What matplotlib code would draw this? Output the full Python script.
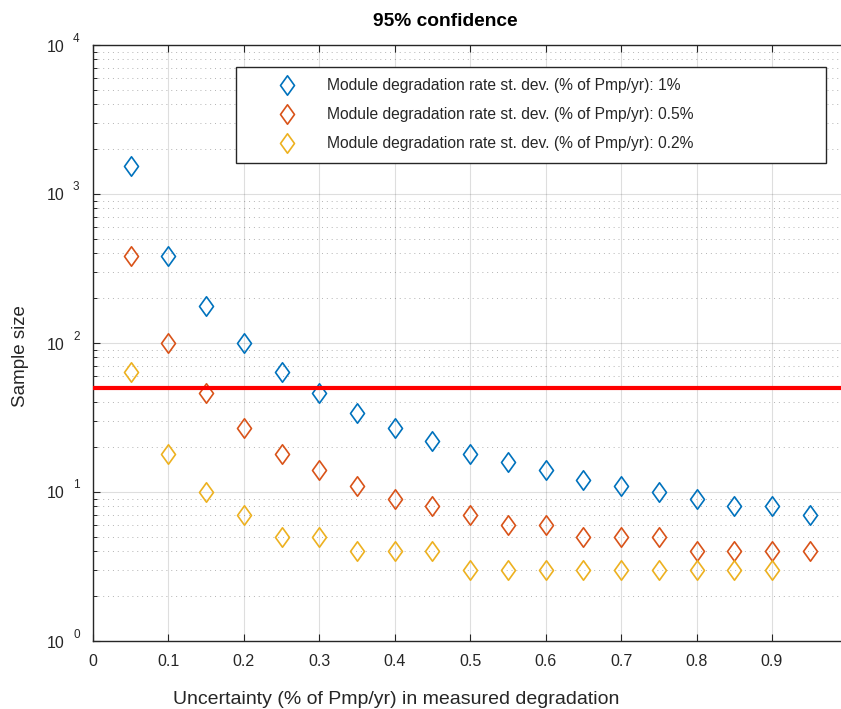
import math

import matplotlib
matplotlib.use("Agg")
import matplotlib.pyplot as plt
import matplotlib.ticker as ticker
import matplotlib.transforms as mtransforms
from matplotlib.path import Path

# values (sample size vs. uncertainty)
x_full = [0.05, 0.10, 0.15, 0.20, 0.25, 0.30, 0.35, 0.40, 0.45, 0.50,
          0.55, 0.60, 0.65, 0.70, 0.75, 0.80, 0.85, 0.90, 0.95]
x_short = x_full[:18]
n_sd_1 = [1540, 384, 176, 100, 64, 46, 34, 27, 22, 18, 16, 14, 12, 11, 10, 9, 8, 8, 7]
n_sd_05 = [384, 100, 46, 27, 18, 14, 11, 9, 8, 7, 6, 6, 5, 5, 5, 4, 4, 4, 4]
n_sd_02 = [64, 18, 10, 7, 5, 5, 4, 4, 4, 3, 3, 3, 3, 3, 3, 3, 3, 3]
target_n = 50

labels = ["Module degradation rate st. dev. (% of Pmp/yr): 1%",
          "Module degradation rate st. dev. (% of Pmp/yr): 0.5%",
          "Module degradation rate st. dev. (% of Pmp/yr): 0.2%"]
colors = ["#0072BD", "#D95319", "#EDB120"]
xtick_vals = [0, 0.1, 0.2, 0.3, 0.4, 0.5, 0.6, 0.7, 0.8, 0.9]
ytick_vals = [1, 10, 100, 1000, 10000]

plt.rcParams['font.family'] = ['Liberation Sans', 'DejaVu Sans']

W, H = 841, 709
fig = plt.figure(figsize=(W / 100, H / 100), dpi=100)
ax = fig.add_axes([93 / W, 1 - 641 / H, 754.4 / W, 596 / H])

# matlab like diamond (taller than wide)
diamond = Path([(0, 1), (0.72, 0), (0, -1), (-0.72, 0), (0, 1)],
               [Path.MOVETO, Path.LINETO, Path.LINETO, Path.LINETO, Path.CLOSEPOLY])

series = [(x_full, n_sd_1), (x_full, n_sd_05), (x_short, n_sd_02)]
for (xs, ys), c, lab in zip(series, colors, labels):
    ax.plot(xs, ys, linestyle='none', marker=diamond, markersize=14,
            markerfacecolor='none', markeredgecolor=c, markeredgewidth=1.2,
            label=lab, zorder=3)

ax.axhline(target_n, color='red', linewidth=3, zorder=4)

ax.set_yscale('log')
ax.set_xlim(0, 1)
ax.set_ylim(1, 10000)
ax.set_xticks(xtick_vals)
ax.set_xticklabels(["0" if v == 0 else "%g" % v for v in xtick_vals])
ax.yaxis.set_major_locator(ticker.FixedLocator(ytick_vals))
ax.yaxis.set_minor_locator(ticker.LogLocator(base=10, subs=range(2, 10), numticks=20))
ax.yaxis.set_major_formatter(ticker.NullFormatter())
ax.yaxis.set_minor_formatter(ticker.NullFormatter())

# "10" with a detached exponent, the way matlab draws log tick labels
ytrans = ax.get_yaxis_transform()
for v in ytick_vals:
    t_base = mtransforms.offset_copy(ytrans, fig=fig, x=-29, y=-2, units='dots')
    t_exp = mtransforms.offset_copy(ytrans, fig=fig, x=-20, y=6.5, units='dots')
    ax.text(0, v, "10", transform=t_base, ha='right', va='center',
            fontsize=11.5, color='#262626', clip_on=False)
    ax.text(0, v, "%d" % round(math.log10(v)), transform=t_exp, ha='left',
            va='center', fontsize=8.5, color='#262626', clip_on=False)

ax.grid(True, which='major', color='#262626', alpha=0.15, linewidth=0.8)
ax.grid(True, which='minor', axis='y', color='#262626', alpha=0.35,
        linewidth=0.7, linestyle=(0, (1, 4)))
ax.set_axisbelow(True)

for s in ax.spines.values():
    s.set_color('#262626')
    s.set_linewidth(1.0)

ax.tick_params(which='both', direction='in', top=True, right=False,
               colors='#262626', labelcolor='#262626')
ax.tick_params(which='major', length=5, width=0.8, labelsize=11.5)
ax.tick_params(which='minor', length=3, width=0.7)
ax.tick_params(axis='x', which='major', pad=9)

leg = ax.legend(loc='upper left', mode='expand', borderaxespad=0,
                bbox_to_anchor=(236 / W, 1 - 163 / H, 590 / W, 96 / H),
                bbox_transform=fig.transFigure, fontsize=11.25,
                handlelength=5.1, handletextpad=0.0, labelspacing=0.9,
                borderpad=0.72, fancybox=False, framealpha=1,
                edgecolor='#262626')
leg.get_frame().set_linewidth(1.0)
for t in leg.get_texts():
    t.set_color('#262626')

fig.text(445 / W, 1 - 26 / H, "95% confidence", ha='center', va='baseline',
         fontsize=13.8, fontweight='bold')
fig.text(396 / W, 1 - 704 / H, "Uncertainty (% of Pmp/yr) in measured degradation",
         ha='center', va='baseline', fontsize=14.0, color='#262626')
fig.text(21 / W, 1 - 356 / H, "Sample size", ha='center', va='center',
         rotation=90, fontsize=13.5, color='#262626')

fig.savefig("out.png", dpi=100)
